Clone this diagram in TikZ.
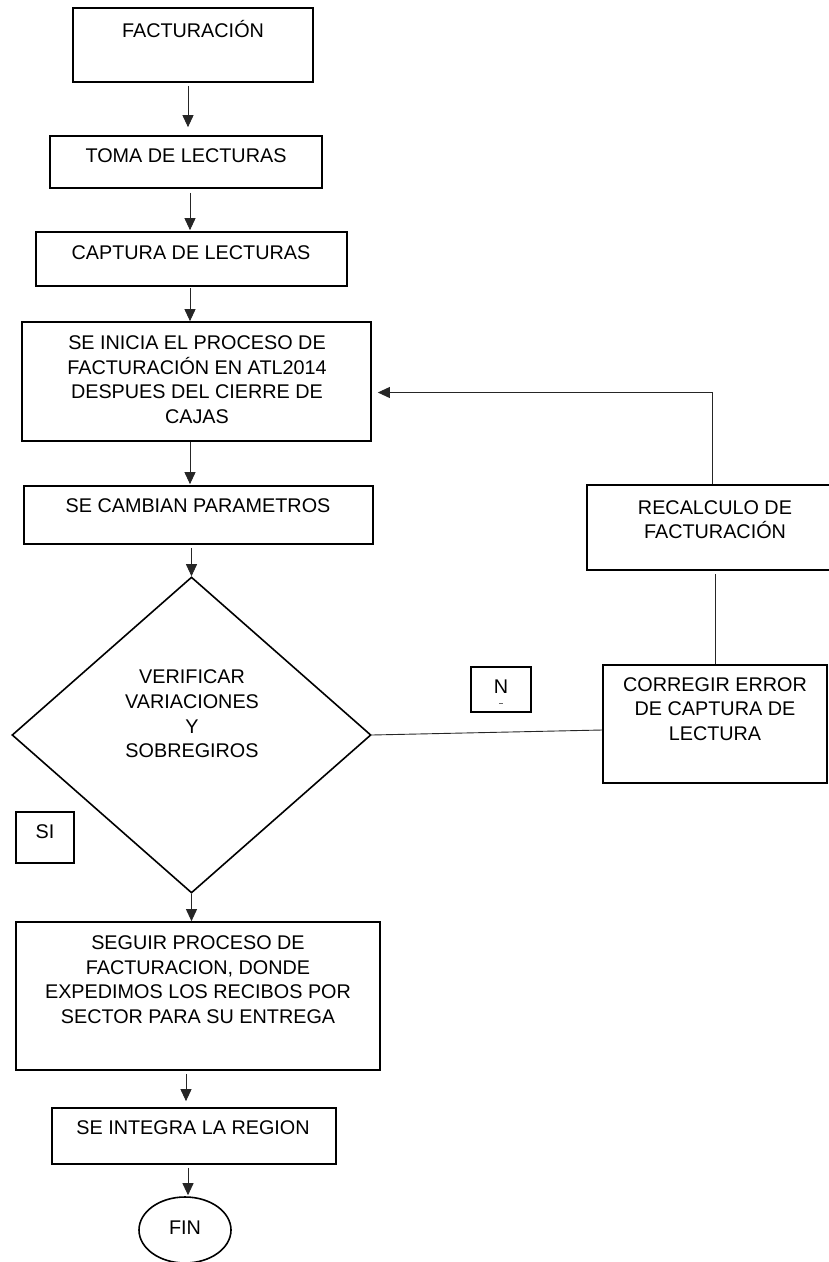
\documentclass[tikz,border=0pt]{standalone}
\usepackage{fontspec}
\setmainfont{Liberation Sans}
\usetikzlibrary{arrows.meta,shapes.geometric}
\begin{document}
\begin{tikzpicture}[x=1pt,y=-1pt,
  box/.style={draw=black, line width=1.7pt, inner sep=0pt, rectangle},
  lbl/.style={inner sep=0pt, align=center, font=\fontsize{19.8}{24.6}\selectfont},
  conn/.style={line width=0.9pt, draw=black!85},
  arr/.style={conn, -{Triangle[length=12pt,width=11pt]}}]
\useasboundingbox (0,0) rectangle (829,1262);
\clip (0,0) rectangle (829,1262);
% x positions of the vertical connectors
\coordinate (c186) at (186,0);
\coordinate (c188) at (188,0);
\coordinate (c190) at (190,0);
\coordinate (c712) at (712,0);
% boxes
\node[box, minimum width=240pt, minimum height=74pt] (fact) at (193,45) {};
\node[lbl] (tfact) at (193,29) {FACTURACIÓN};
\node[box, minimum width=272pt, minimum height=52pt] (toma) at (186,162) {};
\node[lbl] (ttoma) at (186,156) {TOMA DE LECTURAS};
\node[box, minimum width=311pt, minimum height=54pt] (capt) at (191.5,259) {};
\node[lbl] (tcapt) at (191,253) {CAPTURA DE LECTURAS};
\node[box, minimum width=349pt, minimum height=119pt] (inicia) at (196.5,381.5) {};
\node[lbl] (tinicia) at (197,379.5) {SE INICIA EL PROCESO DE\\FACTURACIÓN EN ATL2014\\DESPUES DEL CIERRE DE\\CAJAS};
\node[box, minimum width=349pt, minimum height=58pt] (param) at (198.5,515) {};
\node[lbl] (tparam) at (198,506) {SE CAMBIAN PARAMETROS};
\node[diamond, draw=black, line width=1.6pt, inner sep=0pt, minimum width=359pt, minimum height=316pt] (dec) at (191.5,735) {};
\node[lbl] (tdec) at (192,714) {VERIFICAR\\VARIACIONES\\Y\\SOBREGIROS};
\node[box, line width=1.3pt, minimum width=58pt, minimum height=51pt] (si) at (45,837.5) {};
\node[lbl] (tsi) at (45,832) {SI};
\node[box, minimum width=364pt, minimum height=148pt] (seguir) at (198,996) {};
\node[lbl] (tseguir) at (198,979.5) {SEGUIR PROCESO DE\\FACTURACION, DONDE\\EXPEDIMOS LOS RECIBOS POR\\SECTOR PARA SU ENTREGA};
\node[box, minimum width=284pt, minimum height=56pt] (integra) at (194,1136) {};
\node[lbl] (tintegra) at (193,1128) {SE INTEGRA LA REGION};
\node[ellipse, draw=black, line width=1.6pt, inner sep=0pt, minimum width=92pt, minimum height=66pt] (fin) at (185,1230) {};
\node[lbl] (tfin) at (185,1228) {FIN};
\node[box, minimum width=253pt, minimum height=85pt] (recalc) at (713.5,527.5) {};
\node[lbl] (trecalc) at (715,519.5) {RECALCULO DE\\FACTURACIÓN};
\node[box, minimum width=224pt, minimum height=118pt] (corr) at (715,724) {};
\node[lbl] (tcorr) at (715,709) {CORREGIR ERROR\\DE CAPTURA DE\\LECTURA};
\node[box, line width=1.3pt, minimum width=60pt, minimum height=45pt] (nbox) at (501,689.5) {};
\node[lbl] (tn) at (501,687) {N};
\draw[line width=0.5pt, black!60] (499,703) -- (503,703);
% connectors
\draw[arr, shorten <=3pt, shorten >=8pt] (fact.south -| c188) -- (toma.north -| c188);
\draw[arr, shorten <=4pt, shorten >=1pt] (toma.south -| c190) -- (capt.north -| c190);
\draw[arr, shorten <=1pt] (capt.south -| c190) -- (inicia.north -| c190);
\draw[arr, shorten >=1pt] (inicia.south -| c190) -- (param.north -| c190);
\draw[arr, shorten <=3pt] (param.south -| dec.north) -- (dec.north);
\draw[arr] (dec.south) -- (seguir.north -| dec.south);
\draw[arr, shorten <=3pt, shorten >=6pt] (seguir.south -| c186) -- (integra.north -| c186);
\draw[arr, shorten <=3pt, shorten >=1pt] (integra.south -| c188) -- (fin.north -| c188);
\draw[conn] (dec.east) -- ([yshift=-6pt]corr.west);
\draw[conn, shorten >=3pt] (corr.north) -- (recalc.south -| corr.north);
\draw[arr, shorten >=6pt] (recalc.north -| c712) |- ([yshift=-11pt]inicia.east);
\end{tikzpicture}
\end{document}
